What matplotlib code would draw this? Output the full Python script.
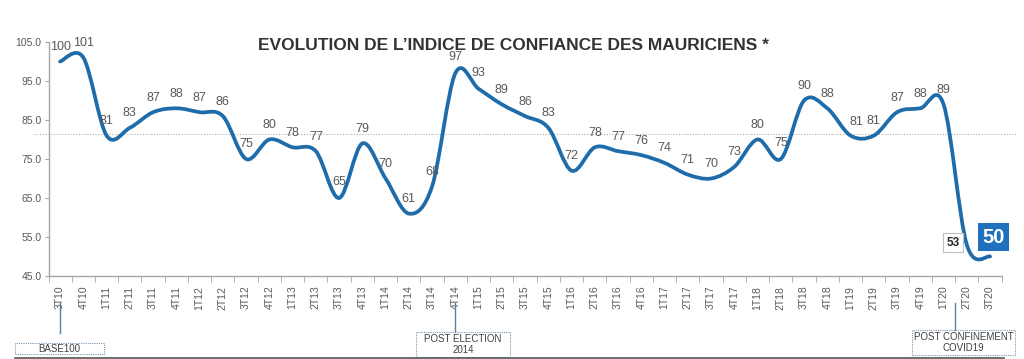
import numpy as np
import matplotlib
matplotlib.use("Agg")
import matplotlib.pyplot as plt
from matplotlib.path import Path
from matplotlib.patches import PathPatch, Rectangle
from matplotlib.transforms import blended_transform_factory

plt.rcParams['font.family'] = ['Liberation Sans', 'DejaVu Sans']

# Data
quarters = ["3T10", "4T10",
            "1T11", "2T11", "3T11", "4T11",
            "1T12", "2T12", "3T12", "4T12",
            "1T13", "2T13", "3T13", "4T13",
            "1T14", "2T14", "3T14", "4T14",
            "1T15", "2T15", "3T15", "4T15",
            "1T16", "2T16", "3T16", "4T16",
            "1T17", "2T17", "3T17", "4T17",
            "1T18", "2T18", "3T18", "4T18",
            "1T19", "2T19", "3T19", "4T19",
            "1T20", "2T20", "3T20"]
indice = [100, 101,
          81, 83, 87, 88,
          87, 86, 75, 80,
          78, 77, 65, 79,
          70, 61, 68, 97,
          93, 89, 86, 83,
          72, 78, 77, 76,
          74, 71, 70, 73,
          80, 75, 90, 88,
          81, 81, 87, 88,
          89, 53, 50]
ref_level = 81.5
yticks = [45, 55, 65, 75, 85, 95, 105]

events = [("BASE100", 0), ("POST ELECTION\n2014", 17), ("POST CONFINEMENT\nCOVID19", 38.5)]

line_col = "#1f6cab"
txt_col = "#595959"

fig = plt.figure(figsize=(10.24, 3.59), dpi=100)
ax = fig.add_axes([48.5 / 1024, 1 - 276 / 359, (1001.7 - 48.5) / 1024, 234 / 359])

x = np.arange(len(indice))
y = np.array(indice, dtype=float)

# smoothed line (Excel style bezier segments)
verts = [(x[0], y[0])]
codes = [Path.MOVETO]
n = len(y)
for i in range(n - 1):
    p0 = np.array([x[max(i - 1, 0)], y[max(i - 1, 0)]])
    p1 = np.array([x[i], y[i]])
    p2 = np.array([x[i + 1], y[i + 1]])
    p3 = np.array([x[min(i + 2, n - 1)], y[min(i + 2, n - 1)]])
    c1 = p1 + (p2 - p0) / 6
    c2 = p2 - (p3 - p1) / 6
    verts += [tuple(c1), tuple(c2), tuple(p2)]
    codes += [Path.CURVE4] * 3
ax.add_patch(PathPatch(Path(verts, codes), fill=False, edgecolor=line_col,
                       lw=2.7, capstyle='round', joinstyle='round', zorder=3))

ax.set_xlim(-0.5, n - 0.5)
ax.set_ylim(45, 105)

# reference dotted line
tr = blended_transform_factory(ax.transAxes, ax.transData)
ax.plot([-0.015, 1.015], [ref_level, ref_level], transform=tr, ls=(0, (1, 1.5)),
        color="#b0b0b0", lw=0.8, clip_on=False, zorder=1)

# axes styling
for s in ["top", "right"]:
    ax.spines[s].set_visible(False)
for s in ["left", "bottom"]:
    ax.spines[s].set_color("#a6a6a6")
    ax.spines[s].set_linewidth(1.0)
ax.set_yticks(yticks)
ax.set_yticklabels([f"{v:.1f}" for v in yticks], fontsize=7.5, color=txt_col)
ax.tick_params(axis='y', length=3, color="#a6a6a6", pad=2)
ax.set_xticks(x)
ax.set_xticklabels(quarters, rotation=90, fontsize=7.5, color=txt_col)
ax.set_xticks(np.arange(-0.5, n, 1), minor=True)
ax.tick_params(axis='x', which='major', length=0, pad=7)
ax.tick_params(axis='x', which='minor', length=4, color="#a6a6a6")

# data labels
shift = {34: (4, 10), 12: (0, 11.5), 17: (0, 11.5), 18: (0, 11.5), 31: (0, 11.5)}
for i, v in enumerate(indice[:-2]):
    dx, dy = shift.get(i, (0, 10.5))
    ax.annotate(str(v), (x[i], v), xytext=(dx, dy), textcoords="offset points",
                ha="center", va="center", fontsize=9, color=txt_col, zorder=4)

ax.annotate(str(indice[-2]), (x[-2], indice[-2]), xytext=(-10, 1.5), textcoords="offset points",
            ha="center", va="center", fontsize=8.5, color="#262626", fontweight="bold",
            bbox=dict(boxstyle="square,pad=0.3", fc="white", ec="#bfbfbf", lw=0.8))
ax.annotate(str(indice[-1]), (x[-1], indice[-1]), xytext=(2.5, 14), textcoords="offset points",
            ha="center", va="center", fontsize=14.5, color="white", fontweight="bold",
            bbox=dict(boxstyle="square,pad=0.22", fc="#1f70bd", ec="none"))

fig.text(0.501, 1 - 46 / 359, "EVOLUTION DE L\u2019INDICE DE CONFIANCE DES MAURICIENS *",
         ha="center", va="center", fontsize=12.5, fontweight="bold", color="#333333")

# event markers and boxes
trx = blended_transform_factory(ax.transData, ax.transAxes)
boxes = [(15, 343, 104, 354), (416, 332, 510, 357), (912, 330, 1015, 355)]
for (label, xi), (x0, y0, x1, y1) in zip(events, boxes):
    ax.plot([xi, xi], [-(303 - 276) / 234, -(min(y0, 333) - 276) / 234], transform=trx,
            color="#5b7f9e", lw=1.0, clip_on=False)
    fig.patches.append(Rectangle((x0 / 1024, 1 - y1 / 359), (x1 - x0) / 1024, (y1 - y0) / 359,
                                 transform=fig.transFigure, fill=False, ec="#7d97b0",
                                 lw=0.8, ls=(0, (1, 1))))
    fig.text((x0 + x1) / 2 / 1024, 1 - (y0 + y1) / 2 / 359, label, ha="center", va="center",
             fontsize=7, color="#404040", linespacing=1.1)

fig.add_artist(plt.Line2D([15 / 1024, 1004 / 1024], [0.003, 0.003], transform=fig.transFigure,
                          color="#555555", lw=1.2))

fig.savefig("out.png", dpi=100)
